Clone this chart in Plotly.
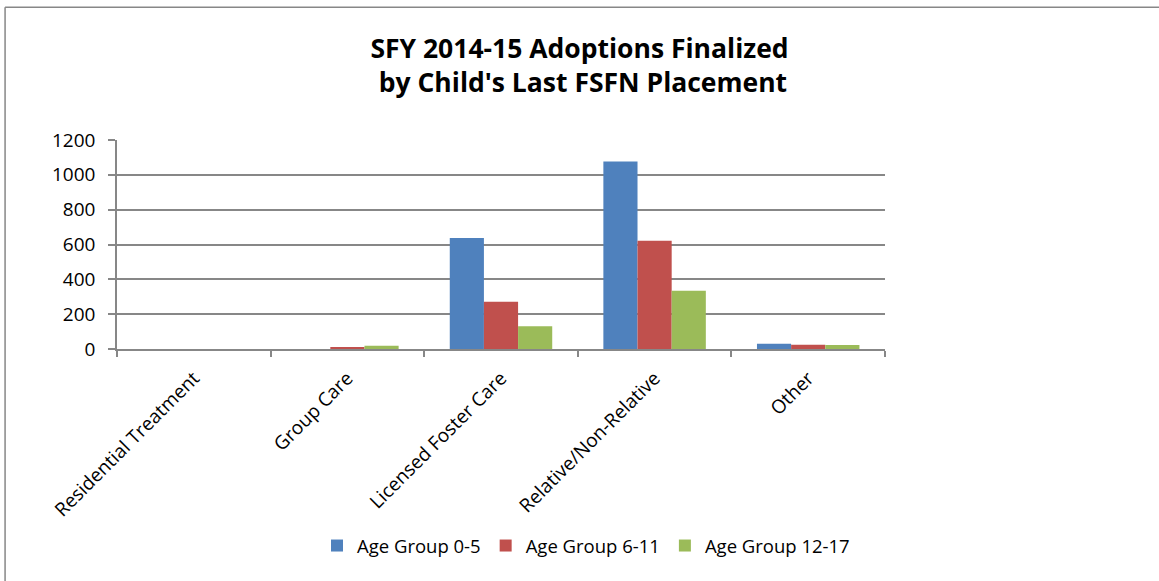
import plotly.graph_objects as go

categories = ["Residential Treatment", "Group Care", "Licensed Foster Care", "Relative/Non-Relative", "Other"]
age_0_5 = [0, 0, 638, 1077, 30]
age_6_11 = [0, 11, 271, 622, 25]
age_12_17 = [0, 19, 130, 334, 23]
series_names = ["Age Group 0-5", "Age Group 6-11", "Age Group 12-17"]
colors = ["#4F81BD", "#C0504D", "#9BBB59"]
y_ticks = [0, 200, 400, 600, 800, 1000, 1200]

W, H = 1159, 581
L, R, T, B = 117, 885.5, 140, 349.5
pw, ph = R - L, B - T

fig = go.Figure()
for name, vals, c in zip(series_names, [age_0_5, age_6_11, age_12_17], colors):
    fig.add_trace(go.Bar(x=categories, y=vals, name=name, marker=dict(color=c, line=dict(width=0))))

grey = "#878787"
fig.update_layout(
    width=W, height=H,
    margin=dict(l=L, r=W - R, t=T, b=H - B, autoexpand=False),
    paper_bgcolor="white", plot_bgcolor="white",
    font=dict(family="Open Sans", size=18, color="black"),
    barmode="group", bargap=0.333, bargroupgap=0,
    title=dict(text="SFY 2014-15 Adoptions Finalized<br> by Child's Last FSFN Placement",
               x=0.5, xref="container", xanchor="center",
               y=1 - 58 / H, yref="container", yanchor="top",
               font=dict(family="Open Sans", size=26.5, color="black", weight="bold")),
    legend=dict(orientation="h", x=586 / W, xanchor="center", xref="container",
                y=1 - 546 / H, yanchor="middle", yref="container",
                font=dict(size=18.5), itemwidth=30, traceorder="normal"),
    showlegend=True,
)
fig.update_yaxes(range=[0, 1200], tickvals=y_ticks, showgrid=True, gridcolor=grey, gridwidth=1.5,
                 showline=True, linecolor=grey, linewidth=1.5, ticks="outside", ticklen=7,
                 tickcolor=grey, tickwidth=1.5, zeroline=False, ticklabelstandoff=9,
                 tickfont=dict(size=19))
fig.update_xaxes(showline=True, linecolor=grey, linewidth=1.5, ticks="outside", ticklen=6,
                 tickcolor=grey, tickwidth=1.5, tickson="boundaries", tickangle=-45,
                 showgrid=False, ticklabelstandoff=9, tickfont=dict(size=19))

# outer chart border (left and top edges visible)
xl = (5 - L) / pw
yt = (B - 7) / ph
fig.add_shape(type="line", xref="paper", yref="paper", x0=xl, x1=xl, y0=-2, y1=yt,
              line=dict(color=grey, width=1.5))
fig.add_shape(type="line", xref="paper", yref="paper", x0=xl, x1=2, y0=yt, y1=yt,
              line=dict(color=grey, width=1.5))

fig.write_html("out.html", config={"displayModeBar": False},
               post_script="document.body.style.margin='0px';")
